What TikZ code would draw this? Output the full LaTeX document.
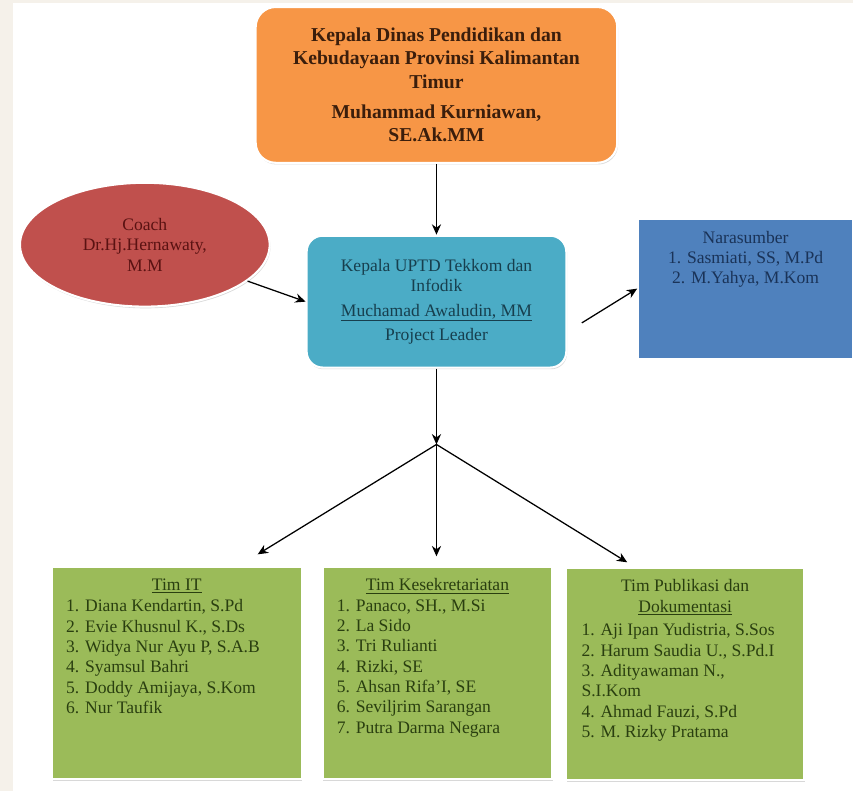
\documentclass[tikz,border=0pt]{standalone}
\usepackage{fontspec}
\setmainfont{Liberation Serif}
\usetikzlibrary{shapes.geometric,arrows.meta,positioning,shadows}
\definecolor{bgside}{HTML}{F5F1EA}
\definecolor{headfill}{HTML}{F79646}
\definecolor{headtext}{HTML}{3B1E0C}
\definecolor{coachfill}{HTML}{C0504D}
\definecolor{coachtext}{HTML}{5A1212}
\definecolor{leadfill}{HTML}{4BACC6}
\definecolor{leadtext}{HTML}{173F4E}
\definecolor{narafill}{HTML}{4F81BD}
\definecolor{naratext}{HTML}{1A3358}
\definecolor{teamfill}{HTML}{9BBB59}
\definecolor{teamtext}{HTML}{2A3F10}
\tikzset
{
    boxshadow/.style = {drop shadow={shadow xshift=0.6pt, shadow yshift=-1.2pt, opacity=0.3}},
    headbox/.style   = {rectangle, rounded corners=5mm, fill=headfill, draw=white, line width=1.5pt, boxshadow, minimum width=90.5mm, minimum height=39mm, align=center, text=headtext, font=\bfseries\fontsize{14}{16.5}\selectfont},
    coachbox/.style  = {ellipse, fill=coachfill, draw=white, line width=1.5pt, boxshadow, minimum width=62.5mm, minimum height=31mm, align=center, text=coachtext, font=\fontsize{12.5}{14.5}\selectfont},
    leadbox/.style   = {rectangle, rounded corners=4mm, fill=leadfill, draw=white, line width=1.5pt, boxshadow, minimum width=65mm, minimum height=33mm, align=center, text=leadtext, font=\fontsize{12.5}{14.5}\selectfont},
    narabox/.style   = {rectangle, fill=narafill, draw=white, line width=1.5pt, boxshadow, minimum width=53.75mm, minimum height=35mm},
    teambox/.style   = {rectangle, fill=teamfill, draw=white, line width=1.5pt, boxshadow, minimum height=53mm},
    boxtext/.style   = {inner sep=0pt, font=\fontsize{12.5}{14.5}\selectfont},
    naralines/.style = {boxtext, align=center, text=naratext},
    teamhead/.style  = {boxtext, align=center, text=teamtext},
    teamlist/.style  = {boxtext, align=left, text=teamtext},
    arrow/.style     = {line width=0.9pt, ->, >={Stealth[length=2.6mm, width=2.3mm]}}
}

\begin{document}
\begin{tikzpicture}[x=0.25mm, y=-0.25mm]
    % page
    \fill[white] (0,0) rectangle (854,792);
    \fill[bgside] (0,0) rectangle (13,792);
    \fill[bgside] (0,0) rectangle (854,3);

    \node (head) [headbox] at (437,85) {Kepala Dinas Pendidikan dan\\Kebudayaan Provinsi Kalimantan\\Timur\\[5pt]Muhammad Kurniawan,\\SE.Ak.MM};
    \node (coach) [coachbox] at (145,245) {Coach\\Dr.Hj.Hernawaty,\\M.M};
    \node (leader) [leadbox] at (437,302) {Kepala UPTD Tekkom dan\\Infodik\\[3pt]\underline{Muchamad Awaludin, MM}\\[3pt]Project Leader};

    \node (nara) [narabox] at (746.5,289) {};
    \node (naraname) [naralines, below=3.25mm of nara.north] {Narasumber\\1. Sasmiati, SS, M.Pd\\2. M.Yahya, M.Kom};

    % teams
    \node (it) [teambox, minimum width=62.5mm] at (177,674) {};
    \node (ithead) [teamhead, below=3mm of it.north] {\underline{Tim IT}};
    \node (itlist) [teamlist, below right=8.25mm and 3.75mm of it.north west] {1. Diana Kendartin, S.Pd\\2. Evie Khusnul K., S.Ds\\3. Widya Nur Ayu P, S.A.B\\4. Syamsul Bahri\\5. Doddy Amijaya, S.Kom\\6. Nur Taufik};

    \node (sek) [teambox, minimum width=57.5mm] at (438,674) {};
    \node (sekhead) [teamhead, below=3mm of sek.north] {\underline{Tim Kesekretariatan}};
    \node (seklist) [teamlist, below right=8.25mm and 3.75mm of sek.north west] {1. Panaco, SH., M.Si\\2. La Sido\\3. Tri Rulianti\\4. Rizki, SE\\5. Ahsan Rifa'I, SE\\6. Seviljrim Sarangan\\7. Putra Darma Negara};

    \node (pub) [teambox, minimum width=59.5mm] at (686,675) {};
    \node (pubhead) [teamhead, below=3mm of pub.north] {Tim Publikasi dan\\\underline{Dokumentasi}};
    \node (publist) [teamlist, below right=14mm and 4mm of pub.north west] {1. Aji Ipan Yudistria, S.Sos\\2. Harum Saudia U., S.Pd.I\\3. Adityawaman N.,\\S.I.Kom\\4. Ahmad Fauzi, S.Pd\\5. M. Rizky Pratama};

    % connectors
    \coordinate (hub) at (437,445);
    \coordinate (ittip) at (258,555);
    \coordinate (sektip) at (437,557);
    \coordinate (pubtip) at (628,563);
    \draw[arrow] (head) -- (leader);
    \draw[arrow] (coach) -- (leader.west);
    \draw[arrow, shorten <=4.25mm] (leader.-13) -- (nara.west);
    \draw[arrow] (leader) -- (hub);
    \draw[arrow] (hub) -- (ittip);
    \draw[arrow] (hub) -- (sektip);
    \draw[arrow] (hub) -- (pubtip);
\end{tikzpicture}
\end{document}
